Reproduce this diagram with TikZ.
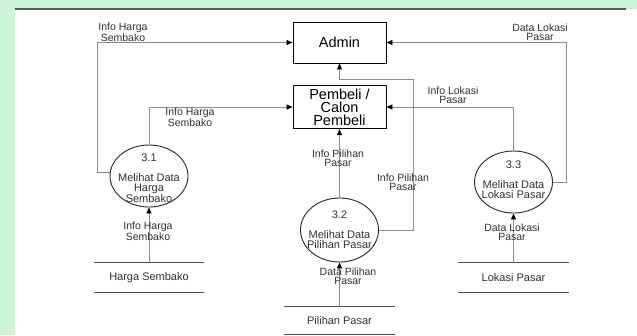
\documentclass[tikz,border=0pt]{standalone}
\usepackage{fontspec}
\setmainfont{Liberation Sans}
\usepackage{xcolor}
\usepackage{tikz}
\usetikzlibrary{positioning, shapes.geometric}
\usetikzlibrary{calc, arrows.meta}
\definecolor{bgmint}{RGB}{204,244,214}
\definecolor{lblgray}{RGB}{50,50,50}
\tikzstyle{entity} = [rectangle, minimum width=93pt, minimum height=41pt, text centered, align=center, draw=black, line width=0.9pt, font=\fontsize{14.5}{13}\selectfont]
\tikzstyle{proc} = [ellipse, minimum width=78pt, minimum height=62pt, inner sep=0pt, draw=black!85, line width=0.9pt]
\tikzstyle{proctext} = [align=center, text=lblgray, font=\fontsize{11}{9.8}\selectfont]
\tikzstyle{store} = [rectangle, minimum width=110pt, text=lblgray, font=\fontsize{11}{10}\selectfont]
\tikzstyle{storeline} = [draw=black!70, line width=0.9pt]
\tikzstyle{lbl} = [align=center, text=lblgray, inner sep=0pt, font=\fontsize{10.5}{9.3}\selectfont]
\tikzstyle{arrow} = [draw=black!45, line width=0.7pt, -{Triangle[length=6pt,width=5pt,color=black]}]

\begin{document}
\begin{tikzpicture}[x=1pt, y=-1pt]
		\useasboundingbox (0,0) rectangle (637,335);
		\fill [bgmint] (0,0) rectangle (637,335);
		\fill [white] (15,9) rectangle (637,335);
		\draw [line width=1.5pt, black!65] (15,9) -- (626,9);
		% eksternal entitas
		\node (admin) [entity] at (339.5,42.5) {Admin};
		\node (pem) [entity, minimum height=42pt] at (339.5,107) {Pembeli /\\Calon\\Pembeli};
		% proses
		\node (p31) [proc] at (149,176) {};
		\node (t31) [proctext] at (149,178.5) {3.1\\[10pt]Melihat Data\\Harga\\Sembako};
		\node (p32) [proc, minimum height=64pt] at (339.5,230) {};
		\node (t32) [proctext] at (339.5,229.5) {3.2\\[10pt]Melihat Data\\Pilihan Pasar};
		\node (p33) [proc] at (513.5,182) {};
		\node (t33) [proctext] at (513.5,179.5) {3.3\\[10pt]Melihat Data\\Lokasi Pasar};
		% data store
		\node (hs) [store, minimum height=29pt] at (149,277.5) {Harga Sembako};
		\node (pp) [store, minimum height=27pt] at (339.5,320.5) {Pilihan Pasar};
		\node (lp) [store, minimum height=29pt] at (513.5,277.5) {Lokasi Pasar};
		\foreach \s in {hs,pp,lp}
			\draw [storeline] (\s.north west) -- (\s.north east) (\s.south west) -- (\s.south east);
		% aliran data
		\draw [arrow](p31.174) -- ++(-13,0) |- (admin.west);
		\draw [arrow](p31.north) |- (pem.west);
		\draw [arrow](hs.north) -- (p31.south);
		\draw [arrow](p32.north) -- (pem.south);
		\draw [arrow](p32.east) -- ++(34,0) |- ($(admin.south)+(0,16)$) -- (admin.south);
		\draw [arrow](pp.north) -- (p32.south);
		\draw [arrow](p33.north) |- (pem.east);
		\draw [arrow](p33.east) -- ++(13,0) |- (admin.east);
		\draw [arrow](lp.north) -- (p33.south);
		% label aliran
		\node (l1) [lbl] at (123,32.5) {Info Harga\\Sembako};
		\node (l2) [lbl] at (190,117.5) {Info Harga\\Sembako};
		\node (l3) [lbl] at (148,231.5) {Info Harga\\Sembako};
		\node (l4) [lbl] at (338,158) {Info Pilihan\\Pasar};
		\node (l5) [lbl] at (403,182) {Info Pilihan\\Pasar};
		\node (l6) [lbl] at (348,276) {Data Pilihan\\Pasar};
		\node (l7) [lbl] at (453,95.5) {Info Lokasi\\Pasar};
		\node (l8) [lbl] at (540,32) {Data Lokasi\\Pasar};
		\node (l9) [lbl] at (512,232) {Data Lokasi\\Pasar};
	\end{tikzpicture}
\end{document}
